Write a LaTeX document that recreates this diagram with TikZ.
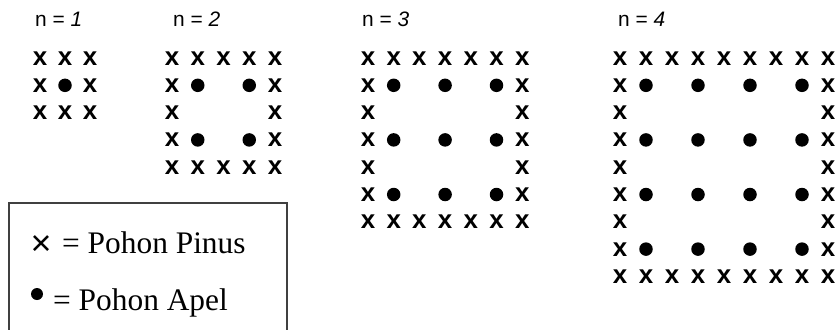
\documentclass[tikz,border=0pt]{standalone}
\usepackage{fontspec}
\setmainfont{Liberation Serif}
\setsansfont{Liberation Sans}
\newcommand\orchard[4]{% #1 name, #2 n, #3 x0, #4 dx
  \pgfmathtruncatemacro\mm{2*#2}
  \foreach \i in {0,...,\mm}{
    \foreach \j in {0,...,\mm}{
      \pgfmathsetmacro\px{#3+#4*\i}
      \pgfmathsetmacro\py{58+27.3*\j}
      \pgfmathtruncatemacro\myedge{(\i==0)||(\i==\mm)||(\j==0)||(\j==\mm)}
      \pgfmathtruncatemacro\myapple{and(mod(\i,2)==1,mod(\j,2)==1)}
      \ifnum\myedge=1
        \node[tree] (#1-\i-\j) at (\px,\py+7) {x};
      \else\ifnum\myapple=1
        \node[apple] (#1-\i-\j) at (\px,\py) {};
      \fi\fi
    }}}
\begin{document}
\begin{tikzpicture}[x=1bp,y=-1bp,
  tree/.style={font=\sffamily\bfseries\fontsize{26}{26}\selectfont, inner sep=0, anchor=base},
  apple/.style={circle, fill=black, inner sep=0, minimum size=13.5bp},
  lbl/.style={font=\sffamily\fontsize{21}{21}\selectfont, inner sep=0, anchor=base west},
  legtext/.style={font=\fontsize{31.5}{31.5}\selectfont, inner sep=0, anchor=base west},
  legbox/.style={draw=black!75, line width=1.3bp}]
\useasboundingbox (0,0) rectangle (839,329);
\node[lbl] (l1) at (35,26) {n = \textit{1}};
\node[lbl] (l2) at (173,26) {n = \textit{2}};
\node[lbl] (l3) at (362,26) {n = \textit{3}};
\node[lbl] (l4) at (618,26) {n = \textit{4}};
\orchard{g1}{1}{40}{25}
\orchard{g2}{2}{172}{25.75}
\orchard{g3}{3}{368}{25.7}
\orchard{g4}{4}{620}{26}
\draw[legbox] (9,335) -- (9,203) -- (287,203) -- (287,335);
\node[font=\sffamily\fontsize{36}{36}\selectfont, inner sep=0, anchor=base] (kx) at (41,255) {×};
\node[legtext] (kt1) at (62,253) {= Pohon Pinus};
\node[circle, fill=black, inner sep=0, minimum size=12bp] (kd) at (37,294) {};
\node[legtext] (kt2) at (53,310) {= Pohon Apel};
\end{tikzpicture}
\end{document}
